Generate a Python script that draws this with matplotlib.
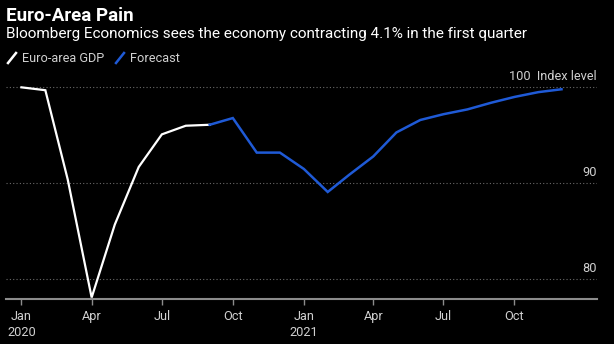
import matplotlib
matplotlib.use("Agg")
import matplotlib.pyplot as plt
from matplotlib.lines import Line2D
import pandas as pd

# Index level, Jan 2020 = 100
gdp_months = pd.date_range("2020-01-01", "2020-09-01", freq="MS")
gdp_values = [100.0, 99.7, 90.4, 78.1, 85.7, 91.7, 95.1, 96.0, 96.1]

fc_months = pd.date_range("2020-09-01", "2021-12-01", freq="MS")
fc_values = [96.1, 96.8, 93.2, 93.2, 91.5, 89.1, 90.9, 92.8, 95.3, 96.6,
             97.2, 97.7, 98.4, 99.0, 99.5, 99.8]

tick_dates = pd.date_range("2020-01-01", "2021-10-01", freq="QS")
tick_labels = ["Jan\n2020", "Apr", "Jul", "Oct", "Jan\n2021", "Apr", "Jul", "Oct"]
y_ticks = [80, 90, 100]
y_labels = ["80", "90", "100  Index level"]

BG = "black"
WHITE = "white"
BLUE = "#1f5ad6"
GREY = "#8c8c8c"
TXT = "#d0d0d0"
FONT = "Roboto"

W, H = 614, 344
fig = plt.figure(figsize=(W / 100, H / 100), dpi=100, facecolor=BG)
plt.rcParams["font.family"] = [FONT, "DejaVu Sans"]

# axes placed in pixel terms
left, right, bottom, top = 6, 597, 298.5, 69.1
ax = fig.add_axes([left / W, 1 - bottom / H, (right - left) / W, (bottom - top) / H])
ax.set_facecolor(BG)

ax.plot(gdp_months, gdp_values, color=WHITE, lw=1.6, solid_joinstyle="miter")
ax.plot(fc_months, fc_values, color=BLUE, lw=1.8, solid_joinstyle="miter")

ax.set_xlim(pd.Timestamp("2019-12-12"), pd.Timestamp("2022-01-16"))
ax.set_ylim(78.0, 101.9)

for y in y_ticks:
    ax.axhline(y, color="#6a6a6a", lw=0.8, ls=(0, (1, 2)), zorder=0)
for y, lab in zip(y_ticks, y_labels):
    ax.text(1.0, y + 0.5, lab, transform=ax.get_yaxis_transform(), ha="right",
            va="bottom", color=TXT, fontsize=9.2)

ax.set_yticks([])
ax.set_xticks(tick_dates)
ax.set_xticklabels(tick_labels, color=TXT, fontsize=9.2, linespacing=1.3)
ax.tick_params(axis="x", direction="out", length=4, width=1, color=GREY, pad=4)

for s in ["top", "left", "right"]:
    ax.spines[s].set_visible(False)
ax.spines["bottom"].set_color(GREY)
ax.spines["bottom"].set_linewidth(1.5)

fig.text(6 / W, 1 - 16 / H, "Euro-Area Pain", color=WHITE, fontsize=13.5,
         fontweight="bold", va="center", ha="left")
fig.text(6 / W, 1 - 34 / H, "Bloomberg Economics sees the economy contracting 4.1% in the first quarter",
         color=WHITE, fontsize=11, va="center", ha="left")

# legend with slanted line glyphs
for x0, col, lab in [(8, WHITE, "Euro-area GDP"), (116, BLUE, "Forecast")]:
    fig.add_artist(Line2D([x0 / W, (x0 + 8) / W], [1 - 63 / H, 1 - 53 / H],
                          color=col, lw=1.8, transform=fig.transFigure))
    fig.text((x0 + 14) / W, 1 - 58 / H, lab, color=TXT, fontsize=9.2,
             va="center", ha="left")

fig.savefig("out.png", dpi=100, facecolor=BG)
